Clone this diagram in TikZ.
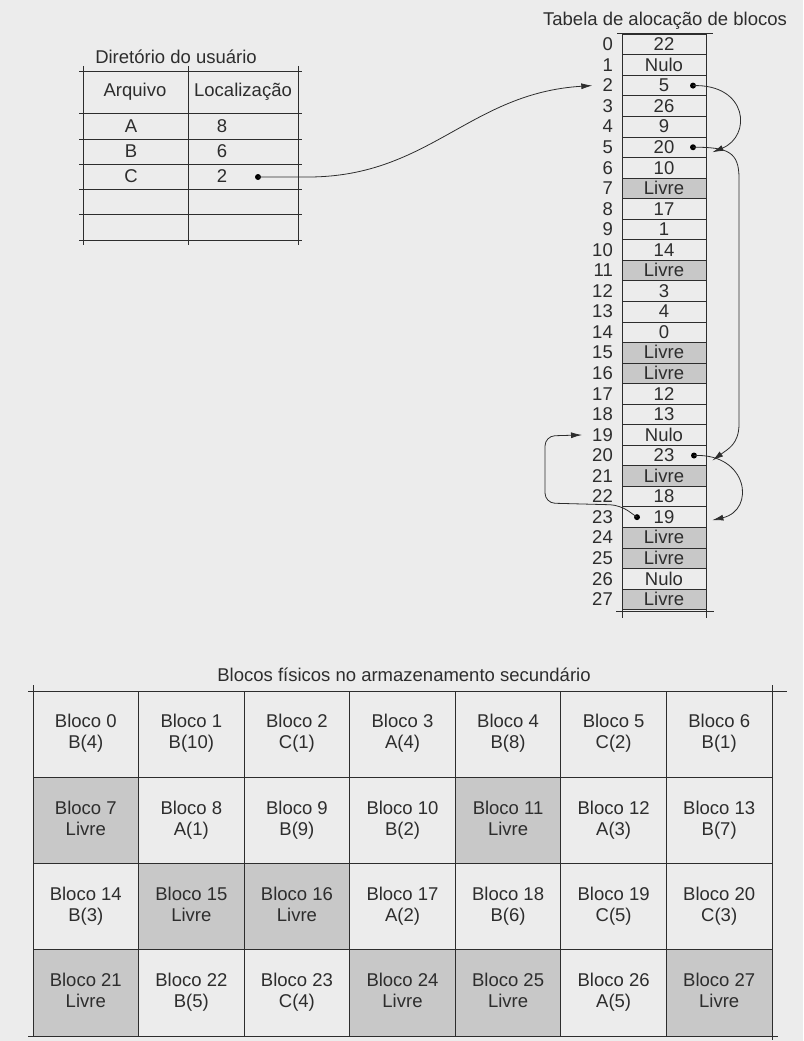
\documentclass[tikz,border=0pt]{standalone}
\usepackage{fontspec}
\setmainfont{Liberation Sans}
\usetikzlibrary{arrows.meta}
\definecolor{bgc}{RGB}{236,236,236}
\definecolor{ink}{RGB}{45,45,45}
\definecolor{livre}{RGB}{200,200,200}
\begin{document}
\begin{tikzpicture}[x=1pt,y=-1pt,
  every node/.style={font=\fontsize{18.5}{21}\selectfont, text=ink},
  ln/.style={draw=ink, line width=0.8pt},
  fatcell/.style={draw=ink, line width=0.8pt, minimum width=84pt, minimum height=20.55pt, inner sep=0pt, text height=13.4pt, text depth=1pt},
  fatnum/.style={anchor=east, inner sep=1pt, text height=13.4pt, text depth=1pt},
  blk/.style={draw=ink, line width=0.8pt, minimum width=105.57pt, minimum height=86.25pt, align=center, inner sep=0pt},
  dot/.style={circle, fill=black, inner sep=0pt, minimum size=6pt},
  arr/.style={draw=ink, line width=0.8pt, -{Latex[length=11pt,width=6pt]}},
]
\fill[bgc] (0,0) rectangle (803,1041);
\useasboundingbox (0,0) rectangle (803,1041);

% ---------- Directory table ----------
\node (dirtitle) at (176,57) {Diretório do usuário};
\foreach \yy in {71,113,139,164,189,214,240} \draw[ln] (79,\yy) -- (302,\yy);
\foreach \xx in {83,188,298} \draw[ln] (\xx,66) -- (\xx,245);
\node (hArq) at (135,92) {Arquivo};
\node (hLoc) at (243,92) {Localização};
\node (fA) at (131,126) {A};
\node (fB) at (131,151.5) {B};
\node (fC) at (131,176.5) {C};
\node (lA) at (222,126) {8};
\node (lB) at (222,151.5) {6};
\node (lC) at (222,176.5) {2};
\node[dot] (dC) at (258,177) {};

% ---------- FAT ----------
\node (fattitle) at (665,21) {Tabela de alocação de blocos};
\draw[ln] (617,33.5) -- (713,33.5);
\draw[ln] (616,611) -- (714,611);
\draw[ln] (622,33.5) -- (622,618);
\draw[ln] (706,33.5) -- (706,618);
\foreach \i/\v/\fc in {0/22/bgc,1/Nulo/bgc,2/5/bgc,3/26/bgc,4/9/bgc,5/20/bgc,6/10/bgc,7/Livre/livre,
  8/17/bgc,9/1/bgc,10/14/bgc,11/Livre/livre,12/3/bgc,13/4/bgc,14/0/bgc,15/Livre/livre,16/Livre/livre,
  17/12/bgc,18/13/bgc,19/Nulo/bgc,20/23/bgc,21/Livre/livre,22/18/bgc,23/19/bgc,24/Livre/livre,
  25/Livre/livre,26/Nulo/bgc,27/Livre/livre}
{
  \node[fatcell, fill=\fc] (f\i) at (664,{44.5+20.55*\i}) {\v};
  \node[fatnum] (n\i) at (614,{44.5+20.55*\i}) {\i};
}
\node[dot] (d2) at ([xshift=29]f2.center) {};
\node[dot] (d5) at ([xshift=29]f5.center) {};
\node[dot] (d20) at ([xshift=30]f20.center) {};
\node[dot] (d23) at ([xshift=-27]f23.center) {};

% ---------- chain arrows ----------
\draw[arr] (dC.center) -- (310,177) .. controls (430,176) and (470,93) .. ([xshift=-9]n2.west);
\draw[arr] (d2.center) .. controls (748,84) and (752,136) .. ([xshift=6,yshift=-5]f5.east);
\draw[arr] (d5.center) .. controls (728,147) and (739,152) .. (739,178) -- (739,424)
   .. controls (739,444) and (728,449) .. ([xshift=6,yshift=-5]f20.east);
\draw[arr] (d20.center) .. controls (748,453) and (756,510) .. ([xshift=6,yshift=-3]f23.east);
\draw[arr, rounded corners=10pt] (d23.center) -- (620,505) -- (545,503) -- (545,436) -- ([xshift=-9]n19.west);

% ---------- physical blocks ----------
\node (phystitle) at (404,675) {Blocos físicos no armazenamento secundário};
\foreach \n/\tx/\fc in {0/B(4)/bgc,1/B(10)/bgc,2/C(1)/bgc,3/A(4)/bgc,4/B(8)/bgc,5/C(2)/bgc,6/B(1)/bgc,
  7/Livre/livre,8/A(1)/bgc,9/B(9)/bgc,10/B(2)/bgc,11/Livre/livre,12/A(3)/bgc,13/B(7)/bgc,
  14/B(3)/bgc,15/Livre/livre,16/Livre/livre,17/A(2)/bgc,18/B(6)/bgc,19/C(5)/bgc,20/C(3)/bgc,
  21/Livre/livre,22/B(5)/bgc,23/C(4)/bgc,24/Livre/livre,25/Livre/livre,26/A(5)/bgc,27/Livre/livre}
{
  \pgfmathtruncatemacro\rr{int(\n/7)}
  \pgfmathtruncatemacro\cc{mod(\n,7)}
  \node[blk, fill=\fc] (b\n) at ({33+105.57*(\cc+0.5)},{691+86.25*(\rr+0.5)}) {\strut Bloco \n\\\strut\tx};
}
\draw[ln] (28,691) -- (787,691);
\draw[ln] (28,1036) -- (778,1036);
\draw[ln] (33,685) -- (33,1036);
\draw[ln] (772,685) -- (772,1040);
\end{tikzpicture}
\end{document}
